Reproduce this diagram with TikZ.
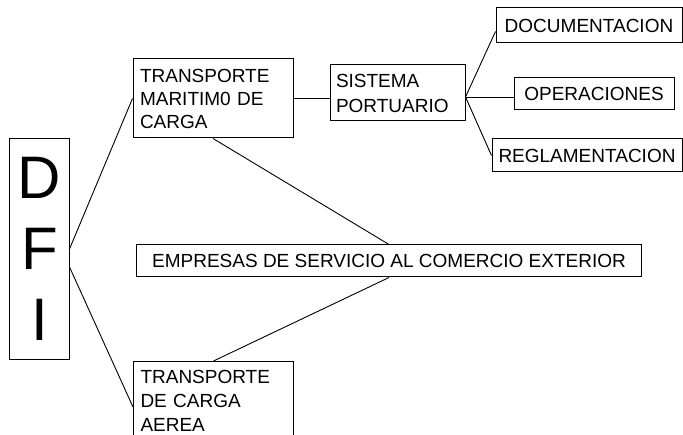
\documentclass[tikz,border=0pt]{standalone}
\usepackage{fontspec}
\setmainfont{Liberation Sans}
\usetikzlibrary{calc}
\tikzset{
  box/.style={draw=black, line width=1bp, inner sep=0pt, align=left,
    font=\fontsize{19bp}{23bp}\selectfont},
  link/.style={draw=black, line width=0.9bp}
}
\begin{document}
\begin{tikzpicture}[x=1bp,y=-1bp]
\useasboundingbox (0,0) rectangle (683,435);
\clip (0,0) rectangle (683,435);
% nodes
\node[box, minimum width=59bp, minimum height=220bp, align=center,
  font=\fontsize{60bp}{71bp}\selectfont] (dfi) at (39.5,249) {D\\F\\I};
\node[box, minimum width=160bp, minimum height=79bp, text width=146bp] (tm) at (213,98.5)
  {TRANSPORTE\\MARITIM0 DE\\CARGA};
\node[box, minimum width=135bp, minimum height=56bp, text width=123bp,
  font=\fontsize{19bp}{25bp}\selectfont] (sp) at (397.5,93) {SISTEMA\\PORTUARIO};
\node[box, minimum width=504bp, minimum height=32bp, align=center] (emp) at (389,261)
  {EMPRESAS DE SERVICIO AL COMERCIO EXTERIOR};
\node[box, minimum width=186bp, minimum height=35bp, align=center] (doc) at (589,25.5)
  {DOCUMENTACION};
\node[box, minimum width=160bp, minimum height=32bp, align=center] (op) at (594,94)
  {OPERACIONES};
\node[box, minimum width=190bp, minimum height=33bp, align=center] (reg) at (587,155.5)
  {REGLAMENTACION};
\node[box, anchor=north west, text width=146bp, inner xsep=7bp, inner ysep=8.4bp,
  font=\fontsize{19bp}{24bp}\selectfont] (ta) at (133,361)
  {TRANSPORTE\\DE CARGA\\AEREA};
% connectors
\coordinate (j) at ($(sp.east)+(0,4)$);
\draw[link] (dfi.east) -- (tm.west);
\draw[link] ($(dfi.east)+(0,18)$) -- ($(ta.north west)+(0,46)$);
\draw[link] (tm.east) -- (tm.east -| sp.west);
\draw[link] (j) -- ($(doc.west)+(0,6)$);
\draw[link] (j) -- (j -| op.west);
\draw[link] (j) -- (reg.west);
\draw[link] (tm.south) -- (emp.north);
\draw[link] (emp.south) -- (ta.north);
\end{tikzpicture}
\end{document}
